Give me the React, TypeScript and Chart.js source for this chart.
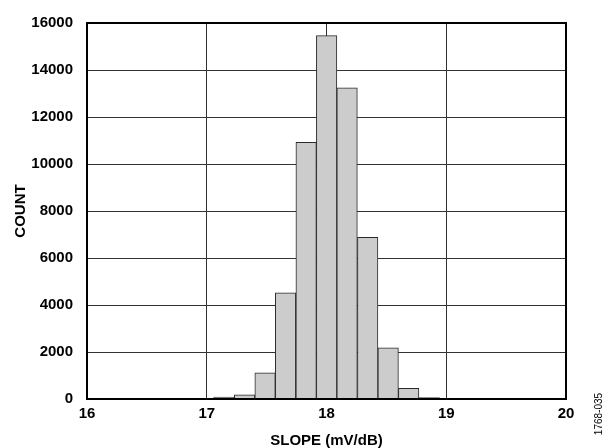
import React, { useEffect, useRef } from "react";
import { Chart, registerables } from "chart.js";

Chart.register(...registerables);

// Histogram bin centres (mV/dB) and counts
const slopeBins = [16.973, 17.144, 17.316, 17.487, 17.658, 17.83, 18.001, 18.172, 18.344, 18.515, 18.686, 18.858];
const counts = [15, 80, 180, 1110, 4520, 10920, 15460, 13240, 6880, 2180, 450, 60];

const xTicks = [16, 17, 18, 19, 20];
const yTicks = [0, 2000, 4000, 6000, 8000, 10000, 12000, 14000, 16000];

const xTitle = "SLOPE (mV/dB)";
const yTitle = "COUNT";
const figId = "1768-035";

const FONT = '"Liberation Sans", Arial, Helvetica, sans-serif';

export default function App() {
  const ref = useRef<HTMLCanvasElement | null>(null);

  useEffect(() => {
    if (!ref.current) return;
    const frame = {
      id: "frame",
      afterDraw(chart: any) {
        const { ctx, chartArea } = chart;
        ctx.save();
        ctx.strokeStyle = "#000";
        ctx.lineWidth = 2;
        ctx.strokeRect(chartArea.left, chartArea.top, chartArea.right - chartArea.left, chartArea.bottom - chartArea.top);
        ctx.translate(599, 414);
        ctx.rotate(-Math.PI / 2);
        ctx.font = `10px ${FONT}`;
        ctx.fillStyle = "#000";
        ctx.textAlign = "center";
        ctx.textBaseline = "middle";
        ctx.fillText(figId, 0, 0);
        ctx.restore();
      },
    };

    const chart = new Chart(ref.current, {
      type: "bar",
      data: {
        datasets: [
          {
            data: slopeBins.map((x, i) => ({ x, y: counts[i] })),
            backgroundColor: "#cccccc",
            borderColor: "#2a2a2a",
            borderWidth: 1,
            barPercentage: 1,
            categoryPercentage: 1,
            grouped: false,
          } as any,
        ],
      },
      options: {
        responsive: false,
        animation: false,
        events: [],
        layout: { padding: { left: 0, top: 15, right: 43, bottom: 0 } },
        plugins: { legend: { display: false }, tooltip: { enabled: false } },
        scales: {
          x: {
            type: "linear",
            min: 16,
            max: 20,
            offset: false,
            afterFit(scale: any) {
              scale.height = 49;
            },
            afterBuildTicks(scale: any) {
              scale.ticks = xTicks.map((v) => ({ value: v }));
            },
            grid: { color: "#333", lineWidth: 1, drawTicks: false, offset: false },
            border: { display: false },
            ticks: {
              padding: 6,
              color: "#000",
              font: { family: FONT, size: 15, weight: "bold" },
              maxRotation: 0,
            },
            title: {
              display: true,
              text: xTitle,
              color: "#000",
              font: { family: FONT, size: 15, weight: "bold", lineHeight: 1 },
              padding: { top: 0, bottom: 0 },
            },
          },
          y: {
            type: "linear",
            min: 0,
            max: 16000,
            afterFit(scale: any) {
              scale.width = 87;
            },
            afterBuildTicks(scale: any) {
              scale.ticks = yTicks.map((v) => ({ value: v }));
            },
            grid: { color: "#333", lineWidth: 1, drawTicks: false },
            border: { display: false },
            ticks: {
              padding: 14,
              color: "#000",
              font: { family: FONT, size: 15, weight: "bold" },
              callback: (v: any) => String(v),
            },
            title: {
              display: true,
              text: yTitle,
              color: "#000",
              font: { family: FONT, size: 15, weight: "bold", lineHeight: 1 },
              padding: { top: 13, bottom: 0 },
            },
          },
        },
      },
      plugins: [frame],
    });
    return () => chart.destroy();
  }, []);

  return (
    <div style={{ position: "absolute", left: 0, top: 0, width: 609, height: 448, background: "#fff" }}>
      <canvas ref={ref} width={609} height={448} />
    </div>
  );
}
